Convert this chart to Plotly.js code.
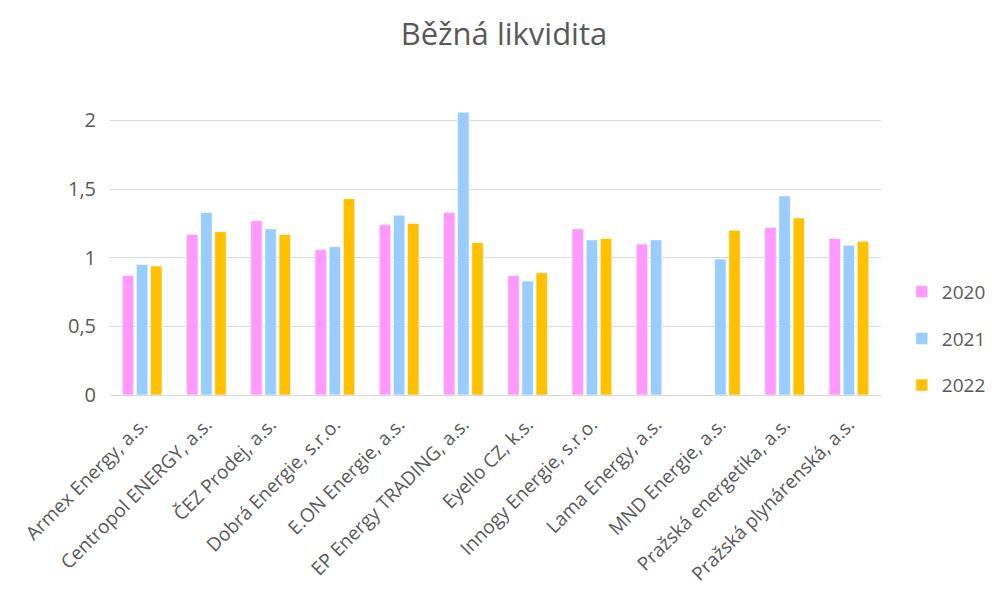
<!DOCTYPE html>
<html>
<head>
<meta charset="utf-8">
<script src="https://cdn.plot.ly/plotly-3.0.1.min.js"></script>
<style>html,body{margin:0;padding:0;background:#fff;}#chart{width:992px;height:596px;}</style>
</head>
<body>
<div id="chart"></div>
<script>
const categories = ["Armex Energy, a.s.", "Centropol ENERGY, a.s.", "ČEZ Prodej, a.s.", "Dobrá Energie, s.r.o.", "E.ON Energie, a.s.", "EP Energy TRADING, a.s.", "Eyello CZ, k.s.", "Innogy Energie, s.r.o.", "Lama Energy, a.s.", "MND Energie, a.s.", "Pražská energetika, a.s.", "Pražská plynárenská, a.s."];
const values2020 = [0.87, 1.17, 1.27, 1.06, 1.24, 1.33, 0.87, 1.21, 1.10, null, 1.22, 1.14];
const values2021 = [0.95, 1.33, 1.21, 1.08, 1.31, 2.06, 0.83, 1.13, 1.13, 0.99, 1.45, 1.09];
const values2022 = [0.94, 1.19, 1.17, 1.43, 1.25, 1.11, 0.89, 1.14, null, 1.20, 1.29, 1.12];
const seriesNames = ["2020", "2021", "2022"];
const colors = ["#FF99FF", "#99CCFF", "#FFC000"];
const yTicks = [0, 0.5, 1, 1.5, 2];
const yTickText = ["0", "0,5", "1", "1,5", "2"];

const all = [values2020, values2021, values2022];
const traces = all.map((v, i) => ({
  type: 'bar', x: categories, y: v, name: seriesNames[i],
  legendgroup: 'g' + i,
  marker: {color: colors[i], line: {color: '#ffffff', width: 0.6}}
}));

const font = "Open Sans, Lato, sans-serif";
const layout = {
  width: 992, height: 596,
  margin: {l: 110, r: 111, t: 93, b: 201, autoexpand: false},
  paper_bgcolor: '#fff', plot_bgcolor: '#fff',
  font: {family: font, color: '#595959', size: 20},
  title: {text: 'Běžná likvidita', font: {size: 31, color: '#595959', family: font},
          x: 0.508, xanchor: 'center', yref: 'container', y: 0.943, yanchor: 'middle'},
  barmode: 'group', bargap: 0.34, bargroupgap: 0.19,
  xaxis: {tickangle: -45, showgrid: false, showline: true, linecolor: '#d9d9d9', linewidth: 1,
          ticks: '', ticklabelstandoff: 10, tickfont: {size: 19, color: '#595959'}, automargin: false},
  yaxis: {range: [0, 2.2], tickvals: yTicks, ticktext: yTickText, showgrid: true,
          gridcolor: '#d9d9d9', gridwidth: 1, zeroline: true, zerolinecolor: '#d9d9d9',
          ticks: '', ticklabelstandoff: 13, tickfont: {size: 20, color: '#595959'}, automargin: false},
  legend: {x: 1.027, xanchor: 'left', y: 0.186, yanchor: 'middle', tracegroupgap: 19,
           font: {size: 19, color: '#595959'}, bgcolor: 'rgba(0,0,0,0)'},
  showlegend: true
};
Plotly.newPlot('chart', traces, layout, {displayModeBar: false, staticPlot: true});
</script>
</body>
</html>
